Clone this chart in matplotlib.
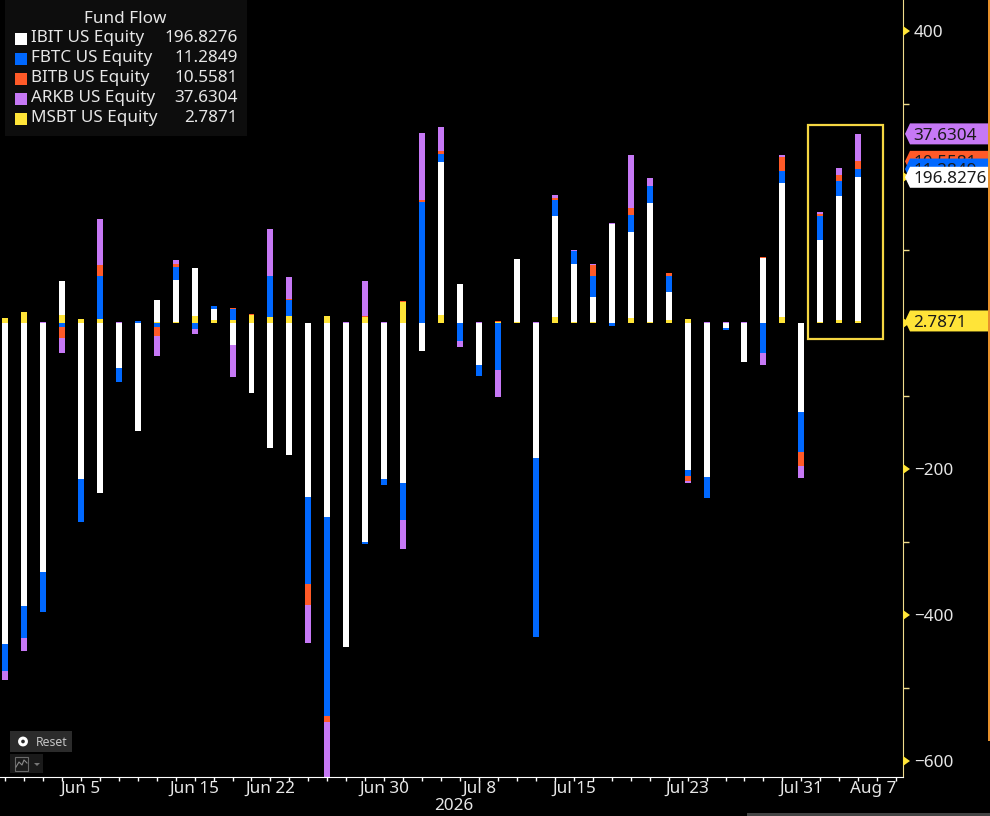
"""Bloomberg style spot bitcoin ETF fund flow chart."""

import matplotlib

matplotlib.use("Agg")

import matplotlib.markers as mmarkers
import matplotlib.pyplot as plt
import numpy as np
from matplotlib.patches import Polygon, Rectangle
from matplotlib.transforms import IdentityTransform

W, H = 990, 816

# business days, the last two have no flows yet
dates = [
    "Jun 1", "Jun 2", "Jun 3", "Jun 4", "Jun 5", "Jun 8", "Jun 9", "Jun 10", "Jun 11", "Jun 12",
    "Jun 15", "Jun 16", "Jun 17", "Jun 18", "Jun 22", "Jun 23", "Jun 24", "Jun 25", "Jun 26", "Jun 29",
    "Jun 30", "Jul 1", "Jul 2", "Jul 6", "Jul 7", "Jul 8", "Jul 9", "Jul 10", "Jul 13", "Jul 14",
    "Jul 15", "Jul 16", "Jul 17", "Jul 20", "Jul 21", "Jul 22", "Jul 23", "Jul 24", "Jul 27", "Jul 28",
    "Jul 29", "Jul 30", "Jul 31", "Aug 3", "Aug 4", "Aug 5", "Aug 6", "Aug 7",
]
labelled_dates = ["Jun 5", "Jun 15", "Jun 22", "Jun 30", "Jul 8", "Jul 15", "Jul 23", "Jul 31", "Aug 7"]

ibit = [-440, -388, -341, 47, -214, -233, -62, -148, 30, 57,
        66, 15, -30, -96, -171, -181, -238, -266, -444, -300,
        -214, -219, -39, 210, 53, -57, 0, 85, -185, 138,
        79, 33, 136, 118, 163, 38, -201, -211, -7, -53,
        89, 184, -122, 112, 170, 196.8276]
fbtc = [-37, -44, -55, -6, -59, 59, -19, 3, -6, 18,
        -8, 4, 15, 0, 56, 22, -120, -273, 0, -3,
        -8, -51, 166, 10, -25, -15, -64, 0, -245, 22,
        18, 30, -4, 23, 22, 22, -8, -29, -3, 0,
        -41, 16, -55, 33, 21, 11.2849]
bitb = [0, 0, 0, -15, 0, 16, 0, 0, -12, 4,
        0, 0, 1, 1, 1, 1, -29, -8, 0, 1,
        0, 1, 2, 5, 1, 0, 1, 0, 0, 3,
        0, 15, 0, 9, 1, 5, -7, 0, 0, 0,
        1, 19, -19, 3, 8, 10.5581]
arkb = [-12, -18, 1, -20, 1, 62, 1, 0, -27, 5,
        -7, 0, -44, 0, 64, 30, -51, -75, 1, 49,
        1, -40, 92, 33, -8, 1, -38, 1, 1, 4,
        1, 1, 1, 73, 10, 0, -3, 1, 1, 1,
        -16, 3, -16, 2, 9, 37.6304]
msbt = [7, 15, 0, 11, 5, 5, 0, 0, 2, 2,
        10, 4, 4, 11, 8, 10, 0, 10, 0, 8,
        0, 29, 0, 11, 0, 0, 2, 2, 0, 8,
        2, 2, 0, 7, 2, 4, 5, 0, 0, 0,
        0, 8, 0, 2, 4, 2.7871]

names = ["IBIT US Equity", "FBTC US Equity", "BITB US Equity", "ARKB US Equity", "MSBT US Equity"]
last_values = ["196.8276", "11.2849", "10.5581", "37.6304", "2.7871"]
colors = ["#ffffff", "#0068ff", "#ff5a28", "#c678f5", "#ffe438"]

y_major = [400, 200, 0, -200, -400, -600]
y_labelled = [400, -200, -400, -600]
y_minor = [300, 100, -100, -300, -500]

FONT = "Noto Sans"
TEXT = "#e6e6e6"
AXIS_YELLOW = "#f0dc8c"
FS = 12.3


def rect_px(x0, y0, x1, y1, **kw):
    """Rectangle in image pixels, measured from the top left."""
    fig.add_artist(Rectangle((x0, H - y1), x1 - x0, y1 - y0, transform=IdentityTransform(), **kw))


def text_px(x, y, s, **kw):
    kw.setdefault("family", FONT)
    kw.setdefault("fontsize", FS)
    kw.setdefault("color", TEXT)
    kw.setdefault("va", "center")
    fig.text(x / W, 1 - y / H, s, **kw)


fig = plt.figure(figsize=(W / 100, H / 100), dpi=100, facecolor="black")
ax = fig.add_axes([0, 39 / H, 903 / W, 777 / H], facecolor="black")

x = np.arange(len(ibit))
series = {"ibit": ibit, "fbtc": fbtc, "bitb": bitb, "arkb": arkb, "msbt": msbt}
values = {k: np.asarray(v, dtype=float) for k, v in series.items()}
color_of = dict(zip(series, colors))

# positives build up from MSBT, negatives go down from IBIT
pos_base = np.zeros(len(x))
tag_tops = {}
for key in ["msbt", "ibit", "fbtc", "bitb", "arkb"]:
    v = np.clip(values[key], 0, None)
    ax.bar(x, v, 0.316, bottom=pos_base, color=color_of[key], antialiased=False, linewidth=0)
    pos_base += v
    tag_tops[key] = pos_base[-1]
neg_base = np.zeros(len(x))
for key in ["ibit", "fbtc", "bitb", "arkb", "msbt"]:
    v = np.clip(values[key], None, 0)
    ax.bar(x, v, 0.316, bottom=neg_base, color=color_of[key], antialiased=False, linewidth=0)
    neg_base += v

ax.set_xlim(-0.264, 47.36)
ax.set_ylim(-622, 442.5)

for side in ["top", "left"]:
    ax.spines[side].set_visible(False)
ax.spines["bottom"].set_color("#ffffff")
ax.spines["right"].set_color(AXIS_YELLOW)

ax.yaxis.tick_right()
ax.set_yticks(y_labelled)
ax.set_yticklabels([str(v).replace("-", "\u2212") for v in y_labelled], family=FONT, fontsize=FS, color=TEXT)
ax.tick_params(axis="y", which="major", length=0, pad=8)
ax.set_yticks(y_minor, minor=True)
ax.tick_params(axis="y", which="minor", length=4, width=1, color=AXIS_YELLOW)
ax.plot(np.ones(len(y_major)), y_major, transform=ax.get_yaxis_transform(),
        marker=mmarkers.CARETRIGHTBASE, markersize=7, color="#ffe438", linestyle="none",
        markeredgewidth=0, clip_on=False, zorder=3)

ax.set_xticks(np.arange(len(dates)))
ax.set_xticklabels([d if d in labelled_dates else "" for d in dates], family=FONT, fontsize=FS, color=TEXT)
ax.tick_params(axis="x", length=3, width=1, color="#ffffff", pad=0)
for tick, d in zip(ax.get_xticklabels(), dates):
    if d == "Aug 7":
        tick.set_ha("right")

text_px(454, 806.5, "2026", ha="center")

# value tags on the right side, later ones cover the earlier ones like on the terminal
tag_order = [("arkb", 3), ("bitb", 2), ("fbtc", 1), ("ibit", 0), ("msbt", 4)]
for n, (key, i) in enumerate(tag_order):
    yc = ax.transData.transform((0, tag_tops[key]))[1]
    pts = [(905, yc), (910, yc + 10.5), (988, yc + 10.5), (988, yc - 10.5), (910, yc - 10.5)]
    fig.add_artist(Polygon(pts, closed=True, transform=IdentityTransform(), facecolor=colors[i],
                           edgecolor="none", zorder=10 + 2 * n))
    fig.text(913 / W, yc / H, last_values[i], family=FONT, fontsize=FS, color="#1a1a1a",
             va="center_baseline", zorder=11 + 2 * n)

# box drawn around the last three days
rect_px(808, 125, 883, 339, facecolor="none", edgecolor="#f5d742", linewidth=1.6)

# legend panel
rect_px(5, 0, 247, 136, facecolor="#0d0d0d", edgecolor="none")
text_px(125, 19, "Fund Flow", ha="center")
for i, (name, val, c) in enumerate(zip(names, last_values, colors)):
    y = 38.5 + 20 * i
    rect_px(15, y - 6, 27, y + 6, facecolor=c, edgecolor="none")
    text_px(31, y, name)
    text_px(238, y, val, ha="right")

# terminal widgets
rect_px(10, 731, 72, 752, facecolor="#2b2b2b", edgecolor="none")
fig.add_artist(plt.Circle((23, H - 741.5), 3.4, transform=IdentityTransform(), facecolor="none",
                          edgecolor="#ffffff", linewidth=2.2))
text_px(36, 742, "Reset", fontsize=8.8, color="#c4c4c4")
rect_px(10, 754, 43, 773, facecolor="#1a1a1a", edgecolor="none")
rect_px(15, 757, 28, 771, facecolor="none", edgecolor="#6a6a6a", linewidth=0.8)
fig.add_artist(plt.Line2D([16, 19, 22, 24, 27], [H - 767, H - 762, H - 765, H - 760, H - 763],
                          transform=IdentityTransform(), color="#8a8a8a", linewidth=0.8))
fig.add_artist(Polygon([(34, H - 763), (40, H - 763), (37, H - 766)], closed=True,
                       transform=IdentityTransform(), facecolor="#777777", edgecolor="none"))

# window edges from the screenshot
rect_px(988, 0, 990, 741, facecolor="#e8912d", edgecolor="none")
rect_px(747, 813, 990, 816, facecolor="#444444", edgecolor="none")

fig.savefig("out.png", dpi=100, facecolor="black")
